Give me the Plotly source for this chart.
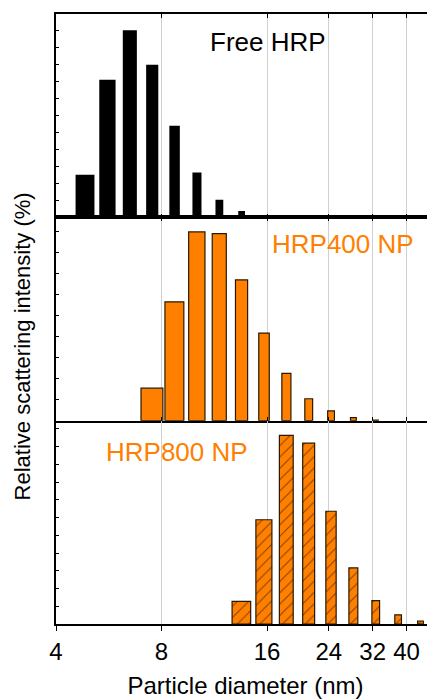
import math
import plotly.graph_objects as go

# ---------------- data ----------------
sizes_free = [4.849, 5.615, 6.503, 7.531, 8.721, 10.1, 11.7, 13.54, 15.69, 18.17]
int_free = [6.3, 20.3, 27.6, 22.5, 13.5, 6.6, 2.6, 0.95, 0.36, 0.1]

sizes_400 = [7.531, 8.721, 10.1, 11.7, 13.54, 15.69, 18.17, 21.04, 24.36, 28.21, 32.67]
int_400 = [3.85, 14.1, 22.4, 22.2, 16.7, 10.4, 5.6, 2.6, 1.15, 0.36, 0.08]

sizes_800 = [13.54, 15.69, 18.17, 21.04, 24.36, 28.21, 32.67, 37.84, 43.82]
int_800 = [3.2, 14.7, 26.6, 25.5, 15.9, 7.9, 3.3, 1.3, 0.42]

x_ticks = [4, 8, 16, 24, 32, 40]
x_tick_labels = ["4", "8", "16", "24", "32", "40"]
long_ticks = [4, 40]

labels = ["Free HRP", "HRP400 NP", "HRP800 NP"]

# ---------------- style ----------------
ORANGE = "#FF8000"
EDGE = "#2a1800"
FONT = "Liberation Sans, Arial, sans-serif"
xr = [math.log10(4), math.log10(48.2)]

fig = go.Figure()

fig.add_trace(go.Bar(x=sizes_free, y=int_free, width=[0.6] * len(sizes_free),
                     marker=dict(color="black", line=dict(color="black", width=0)),
                     xaxis="x", yaxis="y", showlegend=False))
fig.add_trace(go.Bar(x=sizes_400, y=int_400, width=[1.08] * len(sizes_400),
                     marker=dict(color=ORANGE, line=dict(color=EDGE, width=1.2)),
                     xaxis="x2", yaxis="y2", showlegend=False))
fig.add_trace(go.Bar(x=sizes_800, y=int_800, width=[1.65] * len(sizes_800),
                     marker=dict(color=ORANGE, line=dict(color=EDGE, width=1.2),
                                 pattern=dict(shape="/", fgcolor="black", bgcolor=ORANGE,
                                              size=8, solidity=0.12)),
                     xaxis="x3", yaxis="y3", showlegend=False))

common_x = dict(type="log", range=xr, tickvals=x_ticks, ticktext=x_tick_labels,
                showgrid=True, gridcolor="#d0d0d0", gridwidth=1,
                showline=True, linecolor="black", linewidth=1.6,
                tickcolor="black", tickwidth=1.4, zeroline=False, automargin=False)

common_y = dict(showgrid=False, zeroline=False, showline=True, linecolor="black",
                linewidth=1.6, ticks="inside", ticklen=3, tickwidth=1, tickcolor="black",
                dtick=2.5, tick0=0, showticklabels=False, automargin=False)

h = 1 / 3
fig.update_layout(
    width=435, height=700,
    margin=dict(l=48, r=8, t=6, b=84),
    plot_bgcolor="white", paper_bgcolor="white",
    font=dict(family=FONT, color="black"),
    barmode="overlay",
    xaxis=dict(**common_x, anchor="y", ticks="inside", ticklen=4, mirror="ticks",
               showticklabels=False),
    xaxis2=dict(**common_x, anchor="y2", ticks="inside", ticklen=4, mirror="ticks",
                showticklabels=False, matches="x"),
    xaxis3=dict(**common_x, anchor="y3", ticks="outside", ticklen=5,
                tickfont=dict(size=24, family=FONT),
                title=dict(text="Particle diameter (nm)", font=dict(size=24, family=FONT),
                           standoff=14),
                matches="x"),
    xaxis4=dict(type="log", range=xr, overlaying="x3", anchor="y3", side="bottom",
                tickvals=long_ticks, ticks="outside", ticklen=9, tickwidth=1.4,
                tickcolor="black", showticklabels=False, showgrid=False,
                showline=False, zeroline=False, automargin=False),
    xaxis5=dict(type="log", range=xr, overlaying="x", anchor="y", side="top",
                tickvals=long_ticks, ticks="inside", ticklen=9, tickwidth=1.4,
                tickcolor="black", showticklabels=False, showgrid=False,
                showline=False, zeroline=False, automargin=False),
    yaxis=dict(**common_y, domain=[2 * h, 1], range=[0, 30], anchor="x"),
    yaxis2=dict(**common_y, domain=[h, 2 * h], range=[0, 24.13], anchor="x2"),
    yaxis3=dict(**common_y, domain=[0, h], range=[0, 28.67], anchor="x3"),
)

ann = dict(xref="paper", yref="paper", showarrow=False, xanchor="center", yanchor="middle")
fig.add_annotation(text=labels[0], x=0.559, y=0.954,
                   font=dict(size=26, color="black", family=FONT), **ann)
fig.add_annotation(text=labels[1], x=0.757, y=0.623,
                   font=dict(size=26, color=ORANGE, family=FONT), **ann)
fig.add_annotation(text=labels[2], x=0.319, y=0.282,
                   font=dict(size=26, color=ORANGE, family=FONT), **ann)
fig.add_annotation(text="Relative scattering intensity (%)", x=0, y=0.455, xshift=-34,
                   textangle=-90, font=dict(size=22, color="black", family=FONT), **ann)

fig.write_html("out.html")
